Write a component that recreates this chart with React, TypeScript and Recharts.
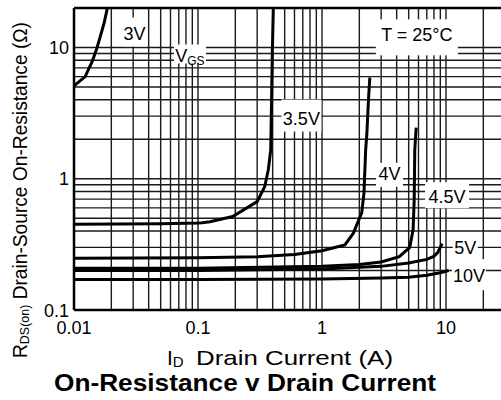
import { LineChart, Line, XAxis, YAxis, CartesianGrid, ReferenceLine, ReferenceDot } from 'recharts';

const FONT = '"Liberation Sans", Arial, Helvetica, sans-serif';

// grid lines (log decades) and the labelled ticks
const xGrid = [
  0.01, 0.02, 0.03, 0.04, 0.05, 0.06, 0.07, 0.08, 0.09,
  0.1, 0.2, 0.3, 0.4, 0.5, 0.6, 0.7, 0.8, 0.9,
  1, 2, 3, 4, 5, 6, 7, 8, 9,
  10, 20, 30, 40, 50, 60, 70, 80, 90, 100,
];
const yGrid = [
  0.1, 0.2, 0.3, 0.4, 0.5, 0.6, 0.7, 0.8, 0.9,
  1, 2, 3, 4, 5, 6, 7, 8, 9,
  10, 20,
];
const xLabelValues = [0.01, 0.1, 1, 10];
const xTickLabels = ['0.01', '0.1', '1', '10'];
const yLabelValues = [0.1, 1, 10];
const yTickLabels = ['0.1', '1', '10'];

// drain current (A) / on-resistance (ohm) per gate voltage
const id3V = [0.01, 0.0123, 0.014, 0.0152, 0.0162, 0.0175, 0.0186];
const r3V = [5.1, 6.0, 7.8, 9.7, 11.9, 15.4, 20];

const id35V = [0.01, 0.05, 0.1, 0.108, 0.125, 0.19, 0.3, 0.345, 0.369, 0.386, 0.392, 0.398, 0.405];
const r35V = [0.45, 0.455, 0.46, 0.462, 0.47, 0.515, 0.67, 0.87, 1.17, 1.66, 4.0, 9.6, 20];

const id4V = [0.01, 0.1, 0.3, 0.6, 1, 1.53, 1.79, 2.09, 2.18, 2.25, 2.3, 2.37, 2.43];
const r4V = [0.248, 0.25, 0.255, 0.265, 0.283, 0.313, 0.385, 0.55, 0.78, 1.66, 2.2, 4.0, 5.9];

const id45V = [0.01, 0.1, 1, 2, 3, 4.2, 5.1, 5.43, 5.54, 5.6, 5.75];
const r45V = [0.208, 0.208, 0.215, 0.222, 0.232, 0.255, 0.3, 0.41, 0.69, 1.66, 2.45];

const id5V = [0.01, 0.1, 1, 3, 5, 7, 7.97, 8.6, 9.3];
const r5V = [0.2, 0.2, 0.205, 0.215, 0.228, 0.243, 0.256, 0.275, 0.32];

const id10V = [0.01, 0.1, 1, 3, 5, 7, 9, 10.5];
const r10V = [0.171, 0.171, 0.172, 0.175, 0.178, 0.184, 0.192, 0.2];

const zip = (ids: number[], rs: number[]) => ids.map((i, k) => ({ i, r: rs[k] }));

const curves = [
  zip(id3V, r3V),
  zip(id35V, r35V),
  zip(id4V, r4V),
  zip(id45V, r45V),
  zip(id5V, r5V),
  zip(id10V, r10V),
];

// in-plot annotations (data coords) and their white boxes (px)
const notes = [
  { text: '3V', i: 0.0308, r: 12.8, w: 25, h: 29, dy: -1.5 },
  { text: 'V', sub: 'GS', i: 0.0861, r: 8.69, w: 32, h: 19, dy: -1.5 },
  { text: '3.5V', i: 0.682, r: 2.9, w: 40, h: 32, dy: -2.5 },
  { text: 'T = 25°C', i: 5.82, r: 12.6, w: 82, h: 36, dy: 3 },
  { text: '4V', i: 3.5, r: 1.1, w: 27, h: 24, dy: 1.5 },
  { text: '4.5V', i: 10.2, r: 0.73, w: 44, h: 26, dy: -1.5 },
  { text: '5V', i: 14.3, r: 0.3, w: 25, h: 24, dy: -0.5 },
  { text: '10V', i: 15.3, r: 0.1826, w: 34, h: 31, dy: -1 },
];

const XTick = (props: any) => {
  const { x, payload } = props;
  const k = xLabelValues.findIndex((v) => Math.abs(v - payload.value) < 1e-9);
  if (k < 0) return <g />;
  return (
    <text x={x} y={334} textAnchor="middle" fontSize={18} fontFamily={FONT} fill="#000">
      {xTickLabels[k]}
    </text>
  );
};

const YTick = (props: any) => {
  const { y, payload } = props;
  const k = yLabelValues.findIndex((v) => Math.abs(v - payload.value) < 1e-9);
  if (k < 0) return <g />;
  return (
    <text x={69} y={y + 6.5} textAnchor="end" fontSize={18} fontFamily={FONT} fill="#000">
      {yTickLabels[k]}
    </text>
  );
};

const XTitles = () => (
  <g fontFamily={FONT} fill="#000">
    <text x={167} y={365} fontSize={21}>
      I<tspan fontSize={15} dy={2}>D</tspan>
    </text>
    <text x={196} y={365} fontSize={21} textLength={197} lengthAdjust="spacingAndGlyphs">
      Drain Current (A)
    </text>
    <text x={54} y={391} fontSize={24} fontWeight="bold" textLength={382} lengthAdjust="spacingAndGlyphs">
      On-Resistance v Drain Current
    </text>
  </g>
);

const YTitle = () => (
  <text
    transform="translate(27,190) rotate(-90)"
    textAnchor="middle"
    fontSize={20}
    fontFamily={FONT}
    fill="#000"
    textLength={336}
    lengthAdjust="spacingAndGlyphs"
  >
    R<tspan fontSize={13} dy={2}>DS(on)</tspan>
    <tspan dy={-2}> Drain-Source On-Resistance (Ω)</tspan>
  </text>
);

const NoteBox = (props: any) => {
  const { cx, cy, note } = props;
  return (
    <g>
      <rect x={cx - note.w / 2} y={cy + note.dy - note.h / 2} width={note.w} height={note.h} fill="#fff" />
      <text x={cx} y={cy + 6.5} textAnchor="middle" fontSize={18} fontFamily={FONT} fill="#000">
        {note.text}
        {note.sub && (
          <tspan fontSize={12} dy={3}>
            {note.sub}
          </tspan>
        )}
      </text>
    </g>
  );
};

export default function App() {
  return (
    <div style={{ position: 'absolute', left: 0, top: 0, width: 501, height: 400, overflow: 'hidden', background: '#fff' }}>
      <LineChart width={600} height={400} margin={{ top: 8, right: 30, bottom: 10, left: 0 }}>
        <CartesianGrid stroke="#1a1a1a" strokeWidth={1.4} />
        <XAxis
          type="number"
          dataKey="i"
          scale="log"
          domain={[0.01, 100]}
          allowDataOverflow
          ticks={xGrid}
          interval={0}
          height={80}
          tickSize={0}
          tickMargin={0}
          tickLine={false}
          axisLine={{ stroke: '#000', strokeWidth: 2.5 }}
          tick={<XTick />}
          label={<XTitles />}
        />
        <YAxis
          type="number"
          dataKey="r"
          scale="log"
          domain={[0.1, 20]}
          allowDataOverflow
          ticks={yGrid}
          interval={0}
          width={74}
          tickSize={0}
          tickMargin={0}
          tickLine={false}
          axisLine={{ stroke: '#000', strokeWidth: 2.5 }}
          tick={<YTick />}
          label={<YTitle />}
        />
        <ReferenceLine y={20} stroke="#000" strokeWidth={2.5} />
        {notes.map((n) => (
          <ReferenceDot
            key={n.text}
            x={n.i}
            y={n.r}
            ifOverflow="visible"
            shape={(p: any) => <NoteBox {...p} note={n} />}
          />
        ))}
        {curves.map((d, k) => (
          <Line
            key={k}
            data={d}
            dataKey="r"
            type="linear"
            stroke="#000"
            strokeWidth={3}
            dot={false}
            activeDot={false}
            isAnimationActive={false}
          />
        ))}
      </LineChart>
    </div>
  );
}
